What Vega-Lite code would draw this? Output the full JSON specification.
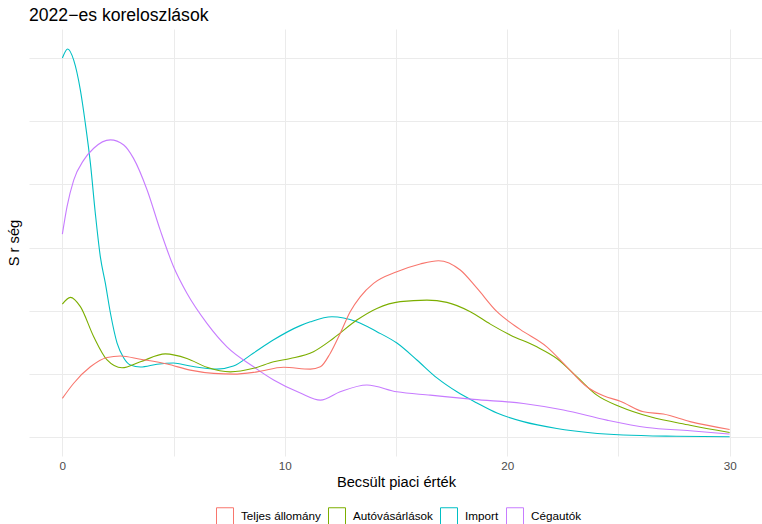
{
  "$schema": "https://vega.github.io/schema/vega-lite/v6.json",
  "autosize": "none",
  "width": 734,
  "height": 427,
  "padding": {"top": 29, "left": 29, "right": 0, "bottom": 68},
  "background": "white",
  "title": {"text": "2022−es koreloszlások", "anchor": "start", "frame": "group", "fontSize": 17.6, "font": "Liberation Sans", "fontWeight": "normal", "color": "black", "baseline": "alphabetic", "offset": 7, "dy": 17},
  "data": {"values": [
    {"csoport": "Import", "ertek": 0, "suruseg": 0.1500},
    {"csoport": "Import", "ertek": 0.24, "suruseg": 0.1536},
    {"csoport": "Import", "ertek": 0.51, "suruseg": 0.1492},
    {"csoport": "Import", "ertek": 0.81, "suruseg": 0.1373},
    {"csoport": "Import", "ertek": 1.03, "suruseg": 0.1243},
    {"csoport": "Import", "ertek": 1.26, "suruseg": 0.1084},
    {"csoport": "Import", "ertek": 1.48, "suruseg": 0.0887},
    {"csoport": "Import", "ertek": 1.71, "suruseg": 0.0712},
    {"csoport": "Import", "ertek": 1.93, "suruseg": 0.0610},
    {"csoport": "Import", "ertek": 2.16, "suruseg": 0.0491},
    {"csoport": "Import", "ertek": 2.46, "suruseg": 0.0372},
    {"csoport": "Import", "ertek": 2.76, "suruseg": 0.0313},
    {"csoport": "Import", "ertek": 3.06, "suruseg": 0.0285},
    {"csoport": "Import", "ertek": 3.51, "suruseg": 0.0277},
    {"csoport": "Import", "ertek": 4.26, "suruseg": 0.0288},
    {"csoport": "Import", "ertek": 4.99, "suruseg": 0.0293},
    {"csoport": "Import", "ertek": 5.75, "suruseg": 0.0281},
    {"csoport": "Import", "ertek": 6.95, "suruseg": 0.0269},
    {"csoport": "Import", "ertek": 7.69, "suruseg": 0.0281},
    {"csoport": "Import", "ertek": 8.58, "suruseg": 0.0332},
    {"csoport": "Import", "ertek": 9.48, "suruseg": 0.0384},
    {"csoport": "Import", "ertek": 10.70, "suruseg": 0.0441},
    {"csoport": "Import", "ertek": 11.15, "suruseg": 0.0456},
    {"csoport": "Import", "ertek": 12.12, "suruseg": 0.0476},
    {"csoport": "Import", "ertek": 13.24, "suruseg": 0.0456},
    {"csoport": "Import", "ertek": 14.14, "suruseg": 0.0417},
    {"csoport": "Import", "ertek": 15.04, "suruseg": 0.0372},
    {"csoport": "Import", "ertek": 15.94, "suruseg": 0.0305},
    {"csoport": "Import", "ertek": 16.84, "suruseg": 0.0234},
    {"csoport": "Import", "ertek": 17.74, "suruseg": 0.0179},
    {"csoport": "Import", "ertek": 18.64, "suruseg": 0.0135},
    {"csoport": "Import", "ertek": 19.54, "suruseg": 0.0095},
    {"csoport": "Import", "ertek": 20.72, "suruseg": 0.0061},
    {"csoport": "Import", "ertek": 22.23, "suruseg": 0.0034},
    {"csoport": "Import", "ertek": 23.73, "suruseg": 0.0017},
    {"csoport": "Import", "ertek": 25.21, "suruseg": 0.0008},
    {"csoport": "Import", "ertek": 27.6, "suruseg": 0.0003},
    {"csoport": "Import", "ertek": 30, "suruseg": 0.0001},

    {"csoport": "Cégautók", "ertek": 0, "suruseg": 0.0803},
    {"csoport": "Cégautók", "ertek": 0.21, "suruseg": 0.0912},
    {"csoport": "Cégautók", "ertek": 0.51, "suruseg": 0.1017},
    {"csoport": "Cégautók", "ertek": 0.96, "suruseg": 0.1096},
    {"csoport": "Cégautók", "ertek": 1.41, "suruseg": 0.1143},
    {"csoport": "Cégautók", "ertek": 2.16, "suruseg": 0.1176},
    {"csoport": "Cégautók", "ertek": 2.76, "suruseg": 0.1156},
    {"csoport": "Cégautók", "ertek": 3.20, "suruseg": 0.1103},
    {"csoport": "Cégautók", "ertek": 3.81, "suruseg": 0.0978},
    {"csoport": "Cégautók", "ertek": 4.40, "suruseg": 0.0819},
    {"csoport": "Cégautók", "ertek": 5.00, "suruseg": 0.0674},
    {"csoport": "Cégautók", "ertek": 5.60, "suruseg": 0.0569},
    {"csoport": "Cégautók", "ertek": 6.50, "suruseg": 0.0450},
    {"csoport": "Cégautók", "ertek": 7.40, "suruseg": 0.0357},
    {"csoport": "Cégautók", "ertek": 8.60, "suruseg": 0.0278},
    {"csoport": "Cégautók", "ertek": 9.50, "suruseg": 0.0226},
    {"csoport": "Cégautók", "ertek": 10.70, "suruseg": 0.0174},
    {"csoport": "Cégautók", "ertek": 11.60, "suruseg": 0.0146},
    {"csoport": "Cégautók", "ertek": 12.49, "suruseg": 0.0179},
    {"csoport": "Cégautók", "ertek": 13.69, "suruseg": 0.0206},
    {"csoport": "Cégautók", "ertek": 15.04, "suruseg": 0.0179},
    {"csoport": "Cégautók", "ertek": 16.54, "suruseg": 0.0166},
    {"csoport": "Cégautók", "ertek": 18.49, "suruseg": 0.0149},
    {"csoport": "Cégautók", "ertek": 20.73, "suruseg": 0.0133},
    {"csoport": "Cégautók", "ertek": 22.53, "suruseg": 0.0107},
    {"csoport": "Cégautók", "ertek": 24.48, "suruseg": 0.0067},
    {"csoport": "Cégautók", "ertek": 26.28, "suruseg": 0.0038},
    {"csoport": "Cégautók", "ertek": 28.22, "suruseg": 0.0025},
    {"csoport": "Cégautók", "ertek": 30, "suruseg": 0.0012},

    {"csoport": "Autóvásárlások", "ertek": 0, "suruseg": 0.0526},
    {"csoport": "Autóvásárlások", "ertek": 0.36, "suruseg": 0.0553},
    {"csoport": "Autóvásárlások", "ertek": 0.81, "suruseg": 0.0516},
    {"csoport": "Autóvásárlások", "ertek": 1.41, "suruseg": 0.0397},
    {"csoport": "Autóvásárlások", "ertek": 2.01, "suruseg": 0.0305},
    {"csoport": "Autóvásárlások", "ertek": 2.68, "suruseg": 0.0274},
    {"csoport": "Autóvásárlások", "ertek": 3.51, "suruseg": 0.0298},
    {"csoport": "Autóvásárlások", "ertek": 4.63, "suruseg": 0.0329},
    {"csoport": "Autóvásárlások", "ertek": 5.60, "suruseg": 0.0311},
    {"csoport": "Autóvásárlások", "ertek": 6.50, "suruseg": 0.0276},
    {"csoport": "Autóvásárlások", "ertek": 7.55, "suruseg": 0.0258},
    {"csoport": "Autóvásárlások", "ertek": 8.60, "suruseg": 0.0272},
    {"csoport": "Autóvásárlások", "ertek": 9.50, "suruseg": 0.0298},
    {"csoport": "Autóvásárlások", "ertek": 10.25, "suruseg": 0.0311},
    {"csoport": "Autóvásárlások", "ertek": 11.29, "suruseg": 0.0338},
    {"csoport": "Autóvásárlások", "ertek": 12.19, "suruseg": 0.0391},
    {"csoport": "Autóvásárlások", "ertek": 13.24, "suruseg": 0.0463},
    {"csoport": "Autóvásárlások", "ertek": 14.14, "suruseg": 0.0509},
    {"csoport": "Autóvásárlások", "ertek": 15.19, "suruseg": 0.0536},
    {"csoport": "Autóvásárlások", "ertek": 16.39, "suruseg": 0.0542},
    {"csoport": "Autóvásárlások", "ertek": 17.29, "suruseg": 0.0533},
    {"csoport": "Autóvásárlások", "ertek": 18.34, "suruseg": 0.0496},
    {"csoport": "Autóvásárlások", "ertek": 19.24, "suruseg": 0.0447},
    {"csoport": "Autóvásárlások", "ertek": 20.13, "suruseg": 0.0404},
    {"csoport": "Autóvásárlások", "ertek": 21.33, "suruseg": 0.0357},
    {"csoport": "Autóvásárlások", "ertek": 22.23, "suruseg": 0.0311},
    {"csoport": "Autóvásárlások", "ertek": 23.13, "suruseg": 0.0239},
    {"csoport": "Autóvásárlások", "ertek": 24.03, "suruseg": 0.0166},
    {"csoport": "Autóvásárlások", "ertek": 25.08, "suruseg": 0.0120},
    {"csoport": "Autóvásárlások", "ertek": 26.43, "suruseg": 0.0080},
    {"csoport": "Autóvásárlások", "ertek": 28.22, "suruseg": 0.0047},
    {"csoport": "Autóvásárlások", "ertek": 30, "suruseg": 0.0018},

    {"csoport": "Teljes állomány", "ertek": 0, "suruseg": 0.0153},
    {"csoport": "Teljes állomány", "ertek": 0.51, "suruseg": 0.0213},
    {"csoport": "Teljes állomány", "ertek": 1.26, "suruseg": 0.0278},
    {"csoport": "Teljes állomány", "ertek": 2.01, "suruseg": 0.0315},
    {"csoport": "Teljes állomány", "ertek": 2.61, "suruseg": 0.0321},
    {"csoport": "Teljes állomány", "ertek": 3.51, "suruseg": 0.0308},
    {"csoport": "Teljes állomány", "ertek": 4.71, "suruseg": 0.0289},
    {"csoport": "Teljes állomány", "ertek": 5.75, "suruseg": 0.0265},
    {"csoport": "Teljes állomány", "ertek": 6.80, "suruseg": 0.0252},
    {"csoport": "Teljes állomány", "ertek": 7.70, "suruseg": 0.0249},
    {"csoport": "Teljes állomány", "ertek": 8.75, "suruseg": 0.0258},
    {"csoport": "Teljes állomány", "ertek": 9.95, "suruseg": 0.0276},
    {"csoport": "Teljes állomány", "ertek": 11.15, "suruseg": 0.0269},
    {"csoport": "Teljes állomány", "ertek": 11.60, "suruseg": 0.0278},
    {"csoport": "Teljes állomány", "ertek": 12.04, "suruseg": 0.0331},
    {"csoport": "Teljes állomány", "ertek": 12.49, "suruseg": 0.0410},
    {"csoport": "Teljes állomány", "ertek": 12.94, "suruseg": 0.0496},
    {"csoport": "Teljes állomány", "ertek": 13.39, "suruseg": 0.0555},
    {"csoport": "Teljes állomány", "ertek": 13.99, "suruseg": 0.0608},
    {"csoport": "Teljes állomány", "ertek": 15.04, "suruseg": 0.0654},
    {"csoport": "Teljes állomány", "ertek": 16.09, "suruseg": 0.0685},
    {"csoport": "Teljes állomány", "ertek": 16.91, "suruseg": 0.0698},
    {"csoport": "Teljes állomány", "ertek": 17.89, "suruseg": 0.0661},
    {"csoport": "Teljes állomány", "ertek": 18.64, "suruseg": 0.0589},
    {"csoport": "Teljes állomány", "ertek": 19.54, "suruseg": 0.0496},
    {"csoport": "Teljes állomány", "ertek": 20.58, "suruseg": 0.0426},
    {"csoport": "Teljes állomány", "ertek": 21.78, "suruseg": 0.0357},
    {"csoport": "Teljes állomány", "ertek": 22.68, "suruseg": 0.0278},
    {"csoport": "Teljes állomány", "ertek": 23.58, "suruseg": 0.0199},
    {"csoport": "Teljes állomány", "ertek": 24.33, "suruseg": 0.0163},
    {"csoport": "Teljes állomány", "ertek": 25.08, "suruseg": 0.0142},
    {"csoport": "Teljes állomány", "ertek": 26.13, "suruseg": 0.0100},
    {"csoport": "Teljes állomány", "ertek": 27.02, "suruseg": 0.0091},
    {"csoport": "Teljes állomány", "ertek": 28.22, "suruseg": 0.0061},
    {"csoport": "Teljes állomány", "ertek": 30, "suruseg": 0.0030}
  ]},
  "mark": {"type": "line", "interpolate": "monotone", "strokeWidth": 1.1, "clip": true},
  "encoding": {
    "x": {
      "field": "ertek", "type": "quantitative",
      "scale": {"domain": [-1.5, 31.5], "nice": false, "zero": false},
      "axis": {
        "title": "Becsült piaci érték",
        "values": [0, 5, 10, 15, 20, 25, 30],
        "labelExpr": "datum.value % 10 === 0 ? datum.label : ''",
        "ticks": false, "tickSize": 0, "domain": false,
        "grid": true, "gridColor": "#EBEBEB", "gridWidth": 1,
        "labelFont": "Liberation Sans", "labelFontSize": 11.7, "labelColor": "#4D4D4D", "labelPadding": 4,
        "titleFont": "Liberation Sans", "titleFontSize": 14.7, "titleFontWeight": "normal", "titleColor": "black", "titlePadding": 3
      }
    },
    "y": {
      "field": "suruseg", "type": "quantitative",
      "scale": {"domain": [-0.0075, 0.1615], "nice": false, "zero": false},
      "axis": {
        "title": "S r ség",
        "values": [0, 0.025, 0.05, 0.075, 0.1, 0.125, 0.15],
        "labels": false, "ticks": false, "tickSize": 0, "domain": false,
        "grid": true, "gridColor": "#EBEBEB", "gridWidth": 1,
        "titleFont": "Liberation Sans", "titleFontSize": 14.7, "titleFontWeight": "normal", "titleColor": "black", "titlePadding": 8
      }
    },
    "color": {
      "field": "csoport", "type": "nominal",
      "scale": {"domain": ["Teljes állomány", "Autóvásárlások", "Import", "Cégautók"], "range": ["#F8766D", "#7CAE00", "#00BFC4", "#C77CFF"]},
      "legend": {
        "title": null, "orient": "none", "legendX": 187, "legendY": 478, "direction": "horizontal",
        "symbolType": "square", "symbolSize": 289, "symbolStrokeWidth": 1, "symbolFillColor": "white",
        "labelFont": "Liberation Sans", "labelFontSize": 11.7, "labelColor": "black", "labelOffset": 7, "columnPadding": 5
      }
    }
  },
  "config": {"view": {"stroke": null}, "font": "Liberation Sans"}
}
